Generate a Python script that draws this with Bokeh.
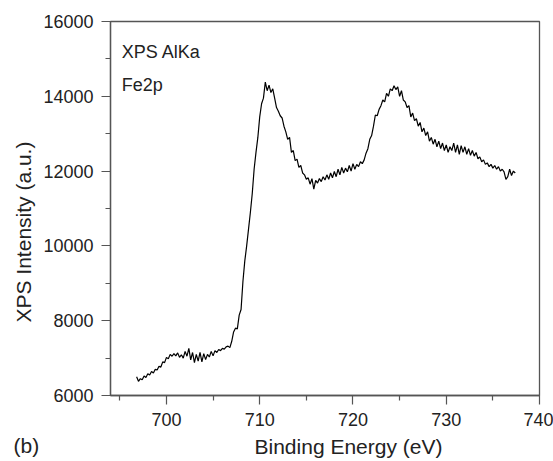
from bokeh.plotting import figure
from bokeh.models import Label, FixedTicker, Range1d, Title
from bokeh.embed import file_html
from bokeh.resources import INLINE

# Binding energy grid start/step (eV) and measured intensity (a.u.)
e_start = 696.8
e_step = 0.2
intensity = [
    6500,
    6380, 6450, 6420, 6520, 6480,
    6580, 6550, 6640, 6600, 6700,
    6680, 6780, 6760, 6900, 6880,
    7020, 6980, 7100, 7050, 7120,
    7060, 7140, 7020, 7090, 7000,
    7180, 7050, 7260, 6950, 7150,
    6880, 7100, 6920, 7150, 6900,
    7120, 6960, 7100, 7030, 7180,
    7060, 7200, 7150, 7230, 7200,
    7260, 7240, 7300, 7320, 7280,
    7450, 7700, 7800, 7780, 8150,
    8300, 9050, 9600, 10000, 10450,
    10900, 11400, 12050, 12500, 12900,
    13450, 13800, 13950, 14380, 14150,
    14300, 14100, 14200, 13950, 13700,
    13600, 13480, 13420, 13200, 13050,
    12850, 12900, 12500, 12550, 12280,
    12320, 12100, 12150, 11950, 11900,
    11780, 11820, 11650, 11800, 11520,
    11750, 11680, 11800, 11720, 11850,
    11760, 11900, 11780, 11950, 11820,
    11990, 11850, 12050, 11900, 12100,
    11950, 12080, 11980, 12150, 12000,
    12200, 12050, 12180, 12120, 12250,
    12200, 12300, 12480, 12600, 12850,
    12950, 13200, 13500, 13480, 13650,
    13750, 13900, 13850, 14080, 14000,
    14200, 14150, 14280, 14180, 14250,
    14000, 14150, 13900, 13850, 13700,
    13750, 13450, 13550, 13350, 13400,
    13200, 13300, 13050, 13150, 12950,
    13050, 12800, 12900, 12720, 12850,
    12650, 12800, 12600, 12750, 12550,
    12700, 12500, 12650, 12550, 12750,
    12500, 12700, 12450, 12680, 12500,
    12650, 12450, 12600, 12420, 12550,
    12400, 12500, 12330, 12380, 12250,
    12300, 12180, 12220, 12120, 12180,
    12080, 12150, 12050, 12120, 12000,
    12050, 11980, 11780, 11850, 12050,
    11880, 12000, 11950,
]
energy = [round(e_start + e_step * i, 1) for i in range(len(intensity))]

x_ticks = [700, 710, 720, 730, 740]
y_ticks = [6000, 8000, 10000, 12000, 14000, 16000]

FONT = "Liberation Sans"
AX = "#555555"
TXT = "#222222"

p = figure(width=553, height=461, output_backend="svg", toolbar_location=None,
           x_range=Range1d(694, 740), y_range=Range1d(6000, 16000),
           min_border_left=110, min_border_right=14, min_border_top=21,
           min_border_bottom=66)
p.background_fill_color = "white"
p.border_fill_color = "white"
p.outline_line_color = AX
p.outline_line_width = 1.3
p.xgrid.visible = False
p.ygrid.visible = False

p.line(energy, intensity, line_color="black", line_width=1.2)

for ax, ticks in ((p.xaxis[0], x_ticks), (p.yaxis[0], y_ticks)):
    ax.ticker = FixedTicker(ticks=ticks,
                            minor_ticks=[(ticks[i] + ticks[i + 1]) / 2 for i in range(len(ticks) - 1)]
                            + [ticks[0] - (ticks[1] - ticks[0]) / 2])
    ax.axis_line_color = AX
    ax.axis_line_width = 1.3
    ax.major_tick_line_color = AX
    ax.minor_tick_line_color = AX
    ax.major_tick_line_width = 1.2
    ax.minor_tick_line_width = 1.2
    ax.major_tick_in = 0
    ax.major_tick_out = 9
    ax.minor_tick_in = 0
    ax.minor_tick_out = 5
    ax.major_label_text_font = FONT
    ax.major_label_text_font_size = "18px"
    ax.major_label_text_color = TXT
    ax.major_label_standoff = 8

# Axis titles (placed as side-panel titles so they may be offset like the reference)
p.add_layout(Title(text="Binding Energy (eV)", align="left", offset=144, standoff=8,
                   text_font=FONT, text_font_size="21px", text_font_style="normal",
                   text_color=TXT), "below")
p.add_layout(Title(text="(b)", align="left", offset=-97, standoff=-55, vertical_align="top",
                   text_font=FONT, text_font_size="21px", text_font_style="normal",
                   text_color=TXT), "below")
p.add_layout(Title(text="XPS Intensity (a.u.)", align="left", offset=73, standoff=12,
                   text_font=FONT, text_font_size="21px", text_font_style="normal",
                   text_color=TXT), "left")

# In-plot annotations
p.add_layout(Label(x=695.2, y=15172, text="XPS AlKa", text_font=FONT,
                   text_font_size="18px", text_color=TXT, text_align="left",
                   text_baseline="alphabetic"))
p.add_layout(Label(x=695.2, y=14290, text="Fe2p", text_font=FONT,
                   text_font_size="18px", text_color=TXT, text_align="left",
                   text_baseline="alphabetic"))

open("out.html", "w").write(file_html(p, INLINE))
